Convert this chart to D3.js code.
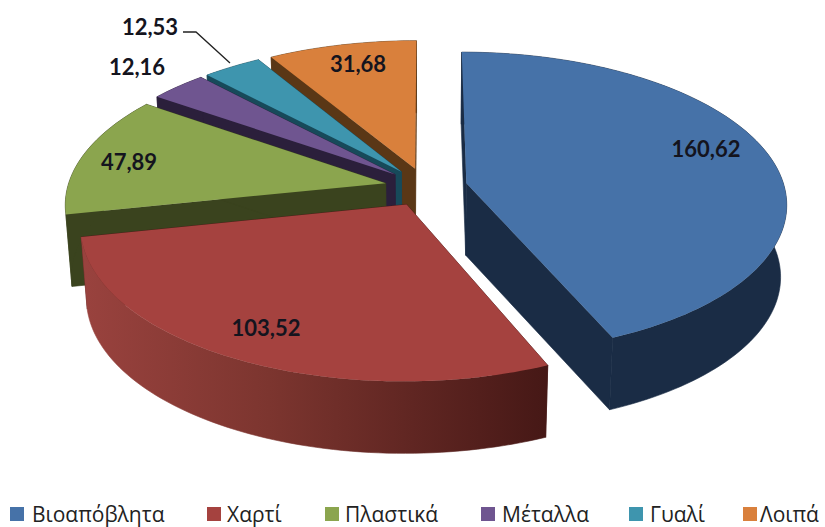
<!DOCTYPE html>
<html>
<head>
<meta charset="utf-8">
<script src="https://cdn.jsdelivr.net/npm/d3@7"></script>
<style>
  html, body { margin: 0; padding: 0; background: #fff; }
  svg { display: block; }
</style>
</head>
<body>
<div id="chart"></div>
<script>
var categories = ["Βιοαπόβλητα", "Χαρτί", "Πλαστικά", "Μέταλλα", "Γυαλί", "Λοιπά"];
var values = [160.62, 103.52, 47.89, 12.16, 12.53, 31.68];
var valueLabels = ["160,62", "103,52", "47,89", "12,16", "12,53", "31,68"];
var topColors = ["#4672a8", "#a5423f", "#8ba54e", "#6f5590", "#3e95ae", "#d9803c"];
var wallColors = ["#1a2c45", "#4a1a18", "#3a431e", "#2b1f3b", "#174a5a", "#5a3716"];

// layout
var width = 825, height = 527;
var explode = 0.13, persp = 0.13, depth = 72, bottomShrink = 0.983;
var labelPos = [[706, 148], [266, 327], [129, 161], [137, 66], [150, 26], [358, 63]];
var legendSquares = [10, 207, 325, 481, 629, 743];
var legendTexts = [32, 227, 345, 502, 650, 760];

var svg = d3.select("#chart")
  .append("svg")
  .attr("width", width)
  .attr("height", height)
  .attr("viewBox", `0 0 ${width} ${height}`);

var x = d3.scaleLinear().domain([-1, 1]).range([426 - 318, 426 + 318]);
var y = d3.scaleLinear().domain([-1, 1]).range([187 - 149, 187 + 149]);

var pie = d3.pie().sort(null).value(function (d) { return d; });
var slices = pie(values);

var defs = svg.append("defs");
var grad = defs.append("linearGradient")
  .attr("id", "redWall")
  .attr("gradientUnits", "userSpaceOnUse")
  .attr("x1", 85).attr("x2", 546).attr("y1", 0).attr("y2", 0);
grad.append("stop").attr("offset", "0").attr("stop-color", "#99423e");
grad.append("stop").attr("offset", "0.4").attr("stop-color", "#7c352f");
grad.append("stop").attr("offset", "1").attr("stop-color", "#461816");

// point on the pie plane -> screen, r in pie radii, level 0 = top, 1 = bottom
function project(d, angle, r, level) {
  var mid = (d.startAngle + d.endAngle) / 2;
  var px = r * Math.sin(angle) + explode * Math.sin(mid);
  var py = -r * Math.cos(angle) - explode * Math.cos(mid);
  var s = 1 - persp * py;
  var sx = x(px / s), sy = y(py / s);
  if (level) {
    sx = x(0) + (sx - x(0)) * bottomShrink;
    sy = sy + depth;
  }
  return [sx, sy];
}

function arcPoints(d, level) {
  var n = Math.max(8, Math.ceil((d.endAngle - d.startAngle) * 40));
  return d3.range(n + 1).map(function (i) {
    return project(d, d.startAngle + (d.endAngle - d.startAngle) * i / n, 1, level);
  });
}

var line = d3.line();

// back slices first, red goes last because it sits in front
var order = [5, 4, 3, 2, 0, 1];
var g = svg.append("g").attr("class", "slices");

order.forEach(function (i) {
  var d = slices[i];
  var apexTop = project(d, 0, 0, 0), apexBottom = project(d, 0, 0, 1);
  var top = arcPoints(d, 0), bottom = arcPoints(d, 1);
  var wall = wallColors[i];

  // radial walls
  [[top[0], bottom[0]], [top[top.length - 1], bottom[bottom.length - 1]]].forEach(function (e) {
    g.append("path")
      .attr("d", line([apexTop, e[0], e[1], apexBottom]) + "Z")
      .attr("fill", wall)
      .attr("stroke", wall)
      .attr("stroke-width", 0.6);
  });

  // outer wall, stroked too so no seam shows against the radial wall
  g.append("path")
    .attr("d", line(top.concat(bottom.slice().reverse())) + "Z")
    .attr("fill", i === 1 ? "url(#redWall)" : wall)
    .attr("stroke", i === 1 ? "url(#redWall)" : wall)
    .attr("stroke-width", 0.6);

  // top face
  g.append("path")
    .attr("d", line([apexTop].concat(top)) + "Z")
    .attr("fill", topColors[i]);
});

// leader line of the 12,53 label
svg.append("path")
  .attr("d", line([[183, 32], [196, 32], [230, 63]]))
  .attr("fill", "none")
  .attr("stroke", "#222")
  .attr("stroke-width", 1.3);

svg.append("g").selectAll("text")
  .data(valueLabels)
  .enter().append("text")
  .attr("x", function (d, i) { return labelPos[i][0]; })
  .attr("y", function (d, i) { return labelPos[i][1]; })
  .attr("text-anchor", "middle")
  .attr("dominant-baseline", "central")
  .attr("font-family", "Lato, 'Open Sans', sans-serif")
  .attr("font-weight", "bold")
  .attr("font-size", 22)
  .attr("fill", "#14141e")
  .text(function (d) { return d; });

var legend = svg.append("g").attr("class", "legend");
legend.selectAll("rect")
  .data(categories)
  .enter().append("rect")
  .attr("x", function (d, i) { return legendSquares[i]; })
  .attr("y", 507)
  .attr("width", 14)
  .attr("height", 14)
  .attr("fill", function (d, i) { return topColors[i]; });

legend.selectAll("text")
  .data(categories)
  .enter().append("text")
  .attr("x", function (d, i) { return legendTexts[i]; })
  .attr("y", 522)
  .attr("font-family", "'Open Sans', 'Noto Sans', sans-serif")
  .attr("font-size", 21)
  .attr("fill", "#222")
  .text(function (d) { return d; });
</script>
</body>
</html>
